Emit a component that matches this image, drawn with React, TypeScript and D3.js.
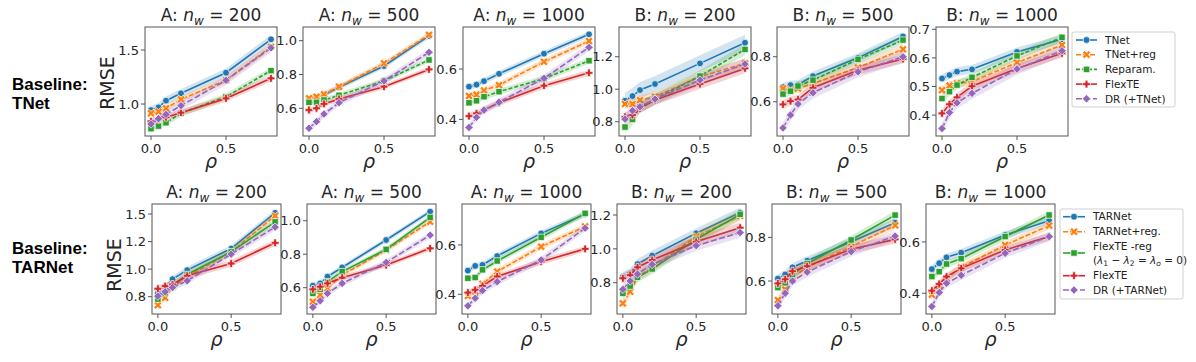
import React from 'react';
import * as d3 from 'd3';

// x positions shared by every panel
const rho = [0, 0.05, 0.1, 0.2, 0.5, 0.8];

const tnetNames = ['TNet', 'TNet+reg', 'Reparam.', 'FlexTE', 'DR (+TNet)'];
const tarnetNames = ['TARNet', 'TARNet+reg.', 'FlexTE -reg', 'FlexTE', 'DR (+TARNet)'];
const colors = ['#1f77b4', '#ff7f0e', '#2ca02c', '#d62728', '#9467bd'];
const markers = ['o', 'X', 's', 'P', 'D'];
const tnetDashes = ['', '5,2', '4,2', '', '6,2.5'];
const tarnetDashes = ['', '5,2', '', '', '6,2.5'];

const panelGroups = ['A', 'A', 'A', 'B', 'B', 'B'];
const panelN = [200, 500, 1000, 200, 500, 1000];

// RMSE, baseline TNet (series in legend order)
const tnetA200 = [
  [0.944, 0.969, 1.031, 1.099, 1.29, 1.599],
  [0.914, 0.929, 0.96, 1.043, 1.222, 1.53],
  [0.772, 0.796, 0.827, 0.914, 1.068, 1.309],
  [0.84, 0.86, 0.877, 0.92, 1.052, 1.238],
  [0.815, 0.864, 0.904, 0.985, 1.219, 1.52],
];
const tnetA500 = [
  [0.653, 0.665, 0.679, 0.724, 0.85, 1.028],
  [0.659, 0.668, 0.683, 0.728, 0.866, 1.035],
  [0.635, 0.635, 0.649, 0.677, 0.762, 0.886],
  [0.59, 0.6, 0.626, 0.655, 0.728, 0.83],
  [0.482, 0.521, 0.566, 0.633, 0.762, 0.931],
];
const tnetA1000 = [
  [0.53, 0.538, 0.552, 0.581, 0.661, 0.738],
  [0.493, 0.498, 0.515, 0.536, 0.629, 0.711],
  [0.466, 0.474, 0.49, 0.51, 0.562, 0.633],
  [0.413, 0.424, 0.437, 0.466, 0.534, 0.585],
  [0.368, 0.408, 0.437, 0.468, 0.563, 0.686],
];
const tnetB200 = [
  [0.929, 0.958, 0.995, 1.032, 1.159, 1.286],
  [0.909, 0.909, 0.933, 0.954, 1.077, 1.159],
  [0.767, 0.814, 0.892, 0.939, 1.081, 1.245],
  [0.83, 0.841, 0.882, 0.933, 1.032, 1.128],
  [0.816, 0.868, 0.892, 0.939, 1.056, 1.155],
];
const tnetB500 = [
  [0.665, 0.674, 0.676, 0.714, 0.795, 0.89],
  [0.659, 0.652, 0.659, 0.681, 0.752, 0.833],
  [0.634, 0.647, 0.67, 0.696, 0.788, 0.874],
  [0.588, 0.603, 0.61, 0.662, 0.74, 0.79],
  [0.484, 0.541, 0.59, 0.64, 0.733, 0.8],
];
const tnetB1000 = [
  [0.528, 0.54, 0.552, 0.56, 0.621, 0.665],
  [0.487, 0.503, 0.511, 0.517, 0.584, 0.645],
  [0.458, 0.482, 0.505, 0.532, 0.607, 0.672],
  [0.406, 0.438, 0.462, 0.501, 0.563, 0.616],
  [0.353, 0.409, 0.443, 0.476, 0.561, 0.625],
];

// RMSE, baseline TARNet
const tarA200 = [
  [0.78, 0.834, 0.909, 0.991, 1.187, 1.511],
  [0.673, 0.74, 0.84, 0.93, 1.157, 1.484],
  [0.728, 0.785, 0.846, 0.952, 1.157, 1.429],
  [0.822, 0.846, 0.861, 0.94, 1.051, 1.239],
  [0.755, 0.794, 0.834, 0.894, 1.136, 1.381],
];
const tarA500 = [
  [0.612, 0.626, 0.666, 0.721, 0.885, 1.054],
  [0.516, 0.556, 0.596, 0.676, 0.825, 0.994],
  [0.566, 0.59, 0.636, 0.696, 0.829, 1.02],
  [0.59, 0.606, 0.626, 0.66, 0.735, 0.835],
  [0.483, 0.522, 0.566, 0.626, 0.751, 0.914],
];
const tarA1000 = [
  [0.496, 0.515, 0.519, 0.555, 0.647, 0.725],
  [0.393, 0.411, 0.442, 0.492, 0.593, 0.675],
  [0.465, 0.468, 0.499, 0.535, 0.631, 0.728],
  [0.407, 0.418, 0.434, 0.472, 0.532, 0.584],
  [0.353, 0.384, 0.415, 0.451, 0.539, 0.668],
];
const tarB200 = [
  [0.835, 0.855, 0.91, 0.96, 1.092, 1.214],
  [0.678, 0.747, 0.835, 0.891, 1.072, 1.194],
  [0.737, 0.78, 0.832, 0.881, 1.056, 1.204],
  [0.826, 0.845, 0.891, 0.934, 1.042, 1.125],
  [0.761, 0.81, 0.851, 0.908, 1.019, 1.096],
];
const tarB500 = [
  [0.611, 0.63, 0.663, 0.693, 0.78, 0.867],
  [0.513, 0.562, 0.618, 0.663, 0.758, 0.855],
  [0.57, 0.592, 0.63, 0.68, 0.788, 0.902],
  [0.589, 0.608, 0.645, 0.668, 0.746, 0.791],
  [0.487, 0.544, 0.6, 0.641, 0.735, 0.806],
];
const tarB1000 = [
  [0.494, 0.517, 0.54, 0.558, 0.627, 0.683],
  [0.394, 0.429, 0.458, 0.501, 0.588, 0.664],
  [0.465, 0.484, 0.514, 0.535, 0.621, 0.705],
  [0.41, 0.436, 0.465, 0.497, 0.569, 0.621],
  [0.348, 0.403, 0.439, 0.47, 0.556, 0.621],
];

// half-width of the shaded interval, per series
const tnetBands = [
  [0.04, 0.03, 0.03, 0.03, 0.04],
  [0.015, 0.015, 0.015, 0.015, 0.02],
  [0.012, 0.012, 0.012, 0.012, 0.014],
  [0.05, 0.03, 0.035, 0.03, 0.035],
  [0.02, 0.02, 0.02, 0.02, 0.025],
  [0.015, 0.015, 0.015, 0.015, 0.02],
];
const tarnetBands = [
  [0.03, 0.03, 0.03, 0.03, 0.03],
  [0.015, 0.015, 0.015, 0.015, 0.018],
  [0.012, 0.012, 0.012, 0.012, 0.014],
  [0.03, 0.03, 0.03, 0.03, 0.03],
  [0.02, 0.02, 0.02, 0.02, 0.022],
  [0.015, 0.015, 0.015, 0.015, 0.018],
];

// axis limits and ticks
const tnetYLim = [[0.704, 1.713], [0.436, 1.081], [0.334, 0.767], [0.712, 1.383], [0.448, 0.932], [0.327, 0.708]];
const tarnetYLim = [[0.593, 1.591], [0.443, 1.1], [0.32, 0.766], [0.615, 1.265], [0.449, 0.953], [0.319, 0.748]];
const tnetYTicks = [[1.0, 1.5], [0.6, 0.8, 1.0], [0.4, 0.6], [0.8, 1.0, 1.2], [0.6, 0.8], [0.4, 0.5, 0.6, 0.7]];
const tnetYLabels = [['1.0', '1.5'], ['0.6', '0.8', '1.0'], ['0.4', '0.6'], ['0.8', '1.0', '1.2'], ['0.6', '0.8'], ['0.4', '0.5', '0.6', '0.7']];
const tarnetYTicks = [[0.75, 1.0, 1.25, 1.5], [0.6, 0.8, 1.0], [0.4, 0.6], [0.8, 1.0, 1.2], [0.6, 0.8], [0.4, 0.6]];
const tarnetYLabels = [['0.8', '1.0', '1.2', '1.5'], ['0.6', '0.8', '1.0'], ['0.4', '0.6'], ['0.8', '1.0', '1.2'], ['0.6', '0.8'], ['0.4', '0.6']];
const xTicks = [0, 0.5];
const xTickLabels = ['0.0', '0.5'];

const tnetData = [tnetA200, tnetA500, tnetA1000, tnetB200, tnetB500, tnetB1000];
const tarnetData = [tarA200, tarA500, tarA1000, tarB200, tarB500, tarB1000];

const FONT = 'DejaVu Sans, sans-serif';
const TXT = '#262626';

function plusPoints(a: number, w: number): [number, number][] {
  return [[-w, -a], [w, -a], [w, -w], [a, -w], [a, w], [w, w], [w, a], [-w, a], [-w, w], [-a, w], [-a, -w], [-w, -w]];
}

function markerPath(kind: string): string {
  if (kind === 'o') {
    const r = 3.4;
    return `M${r},0A${r},${r} 0 1,1 ${-r},0A${r},${r} 0 1,1 ${r},0Z`;
  }
  if (kind === 's') {
    const h = 3.2;
    return `M${-h},${-h}H${h}V${h}H${-h}Z`;
  }
  if (kind === 'D') {
    const r = 4.2;
    return `M0,${-r}L${r},0L0,${r}L${-r},0Z`;
  }
  if (kind === 'P') {
    return 'M' + plusPoints(3.9, 1.4).map(p => p.join(',')).join('L') + 'Z';
  }
  // X: plus turned 45 degrees
  const pts = plusPoints(4.4, 1.4).map(([x, y]) => [(x - y) / Math.SQRT2, (x + y) / Math.SQRT2]);
  return 'M' + pts.map(p => p.join(',')).join('L') + 'Z';
}

type PanelProps = {
  id: string;
  left: number;
  top: number;
  width: number;
  height: number;
  group: string;
  n: number;
  yLim: number[];
  yTicks: number[];
  yLabels: string[];
  data: number[][];
  bands: number[];
  dashes: string[];
};

const Panel = ({ id, left, top, width, height, group, n, yLim, yTicks, yLabels, data, bands, dashes }: PanelProps) => {
  const x = d3.scaleLinear().domain([-0.04, 0.84]).range([left, left + width]);
  const y = d3.scaleLinear().domain(yLim).range([top + height, top]);
  const bottom = top + height;

  const line = d3.line<number>().x((_, i) => x(rho[i])).y(v => y(v));

  return (
    <g>
      <defs>
        <clipPath id={id}>
          <rect x={left} y={top} width={width} height={height} />
        </clipPath>
      </defs>
      <g clipPath={`url(#${id})`}>
        {data.map((vals, s) => {
          const b = bands[s];
          const area = d3.area<number>()
            .x((_, i) => x(rho[i]))
            .y0(v => y(v - b))
            .y1(v => y(v + b));
          return (
            <g key={s}>
              <path d={area(vals) || ''} fill={colors[s]} fillOpacity={0.2} stroke="none" />
              <path d={line(vals) || ''} fill="none" stroke={colors[s]} strokeWidth={1.6}
                strokeDasharray={dashes[s] || undefined} />
              {vals.map((v, i) => (
                <path key={i} d={markerPath(markers[s])} transform={`translate(${x(rho[i])},${y(v)})`}
                  fill={colors[s]} stroke="#fff" strokeWidth={0.7} />
              ))}
            </g>
          );
        })}
      </g>
      <rect x={left} y={top} width={width} height={height} fill="none" stroke="#555" strokeWidth={1} />
      {yTicks.map((t, i) => (
        <g key={t}>
          <line x1={left - 4} x2={left} y1={y(t)} y2={y(t)} stroke="#555" />
          <text x={left - 6} y={y(t)} dy="0.36em" textAnchor="end" fontSize={13} fill={TXT} fontFamily={FONT}>{yLabels[i]}</text>
        </g>
      ))}
      {xTicks.map((t, i) => (
        <g key={t}>
          <line x1={x(t)} x2={x(t)} y1={bottom} y2={bottom + 4} stroke="#555" />
          <text x={x(t)} y={bottom + 17} textAnchor="middle" fontSize={13} fill={TXT} fontFamily={FONT}>{xTickLabels[i]}</text>
        </g>
      ))}
      <text x={left + width / 2} y={bottom + 32} textAnchor="middle" fontSize={19} fontStyle="italic" fill={TXT} fontFamily={FONT}>ρ</text>
      <text x={left + width / 2} y={top - 6} textAnchor="middle" fontSize={17} fill={TXT} fontFamily={FONT}>
        {group}: <tspan fontStyle="italic">n</tspan>
        <tspan fontStyle="italic" fontSize={12} dy={3.5}>w</tspan>
        <tspan dy={-3.5}> = {n}</tspan>
      </text>
    </g>
  );
};

type LegendItem = { label: React.ReactNode; hy: number };

const Legend = ({ x, y, w, h, items, dashes, lineX0, lineX1 }: {
  x: number; y: number; w: number; h: number; items: LegendItem[]; dashes: string[];
  lineX0: number; lineX1: number;
}) => (
  <g>
    <rect x={x} y={y} width={w} height={h} rx={2} fill="#fff" stroke="#d0d0d0" strokeWidth={1} />
    {items.map((it, s) => (
      <g key={s}>
        <line x1={lineX0} x2={lineX1} y1={it.hy} y2={it.hy} stroke={colors[s]} strokeWidth={1.6}
          strokeDasharray={dashes[s] || undefined} />
        <path d={markerPath(markers[s])} transform={`translate(${(lineX0 + lineX1) / 2},${it.hy})`}
          fill={colors[s]} stroke="#fff" strokeWidth={0.7} />
        {it.label}
      </g>
    ))}
  </g>
);

const rows = [
  { top: 27, height: 109, width: 132, lefts: [145, 303, 463, 619, 777, 936] },
  { top: 204, height: 110, width: 129, lefts: [152, 307, 462, 617, 772, 926] },
];

export default function App() {
  const lt = (label: string, yy: number, tx: number) => (
    <text x={tx} y={yy} dy="0.36em" fontSize={10.5} fill="#222" fontFamily={FONT}>{label}</text>
  );
  const tnetItems: LegendItem[] = tnetNames.map((nm, i) => {
    const yy = 40 + i * 14.7;
    return { label: lt(nm, yy, 1105), hy: yy };
  });
  const tarYs = [216.7, 231.7, 253, 275.7, 290];
  const tarnetItems: LegendItem[] = tarnetNames.map((nm, i) => {
    const yy = tarYs[i];
    if (i === 2) {
      return {
        hy: yy,
        label: (
          <g>
            {lt(nm, 246, 1093)}
            <text x={1093} y={260} dy="0.36em" fontSize={10.5} fill="#222" fontFamily={FONT}>
              (<tspan fontStyle="italic">λ</tspan><tspan fontSize={7.5} dy={2}>1</tspan>
              <tspan dy={-2}> − </tspan><tspan fontStyle="italic">λ</tspan><tspan fontSize={7.5} dy={2}>2</tspan>
              <tspan dy={-2}> = </tspan><tspan fontStyle="italic">λ</tspan><tspan fontSize={7.5} fontStyle="italic" dy={2}>o</tspan>
              <tspan dy={-2}> = 0)</tspan>
            </text>
          </g>
        ),
      };
    }
    return { label: lt(nm, yy, 1093), hy: yy };
  });

  return (
    <div style={{ position: 'absolute', left: 0, top: 0, width: 1196, height: 362, background: '#fff' }}>
      <svg width={1196} height={362} style={{ display: 'block' }}>
        <rect width={1196} height={362} fill="#fff" />
        {rows.map((r, ri) => (
          <g key={ri}>
            {r.lefts.map((l, pi) => (
              <Panel
                key={pi}
                id={`clip-${ri}-${pi}`}
                left={l}
                top={r.top}
                width={r.width}
                height={r.height}
                group={panelGroups[pi]}
                n={panelN[pi]}
                yLim={ri === 0 ? tnetYLim[pi] : tarnetYLim[pi]}
                yTicks={ri === 0 ? tnetYTicks[pi] : tarnetYTicks[pi]}
                yLabels={ri === 0 ? tnetYLabels[pi] : tarnetYLabels[pi]}
                data={ri === 0 ? tnetData[pi] : tarnetData[pi]}
                bands={ri === 0 ? tnetBands[pi] : tarnetBands[pi]}
                dashes={ri === 0 ? tnetDashes : tarnetDashes}
              />
            ))}
          </g>
        ))}

        {/* y-axis labels */}
        <text transform="translate(114,83) rotate(-90)" textAnchor="middle" fontSize={19} fill={TXT} fontFamily={FONT}>RMSE</text>
        <text transform="translate(121,265) rotate(-90)" textAnchor="middle" fontSize={19} fill={TXT} fontFamily={FONT}>RMSE</text>

        {/* row labels */}
        <g fontFamily="Liberation Sans, Arial, sans-serif" fontWeight="bold" fontSize={17} fill="#000">
          <text x={12} y={90}>Baseline:</text>
          <text x={12} y={109}>TNet</text>
          <text x={12} y={254}>Baseline:</text>
          <text x={12} y={273}>TARNet</text>
        </g>

        <Legend x={1072} y={32} w={103} h={75} items={tnetItems} dashes={tnetDashes}
          lineX0={1076} lineX1={1097} />
        <Legend x={1060} y={209} w={123} h={90} items={tarnetItems} dashes={tarnetDashes}
          lineX0={1063} lineX1={1085} />
      </svg>
    </div>
  );
}
